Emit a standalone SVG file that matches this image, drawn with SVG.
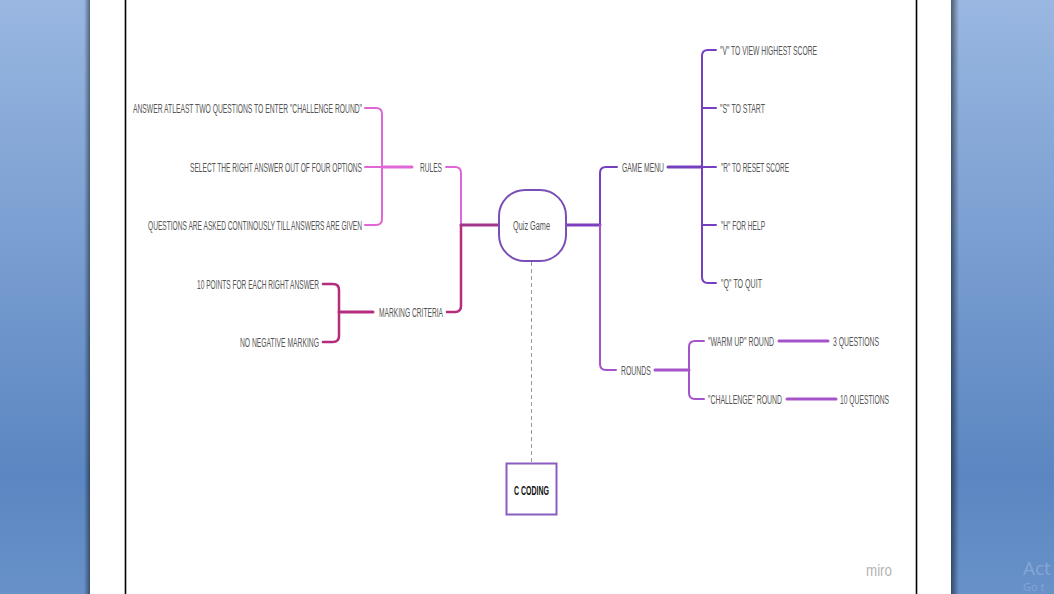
<svg xmlns="http://www.w3.org/2000/svg" width="1054" height="594" viewBox="0 0 1054 594">
<defs>
<linearGradient id="bg" x1="0" y1="0" x2="0" y2="1">
<stop offset="0" stop-color="#99b7e1"/>
<stop offset="0.8" stop-color="#5b86c1"/>
<stop offset="1" stop-color="#6891c9"/>
</linearGradient>
<linearGradient id="shL" x1="0" y1="0" x2="1" y2="0">
<stop offset="0" stop-color="#000" stop-opacity="0"/>
<stop offset="1" stop-color="#000" stop-opacity="0.45"/>
</linearGradient>
<linearGradient id="shR" x1="0" y1="0" x2="1" y2="0">
<stop offset="0" stop-color="#000" stop-opacity="0.5"/>
<stop offset="1" stop-color="#000" stop-opacity="0"/>
</linearGradient>
<style>
.t{font-family:"Liberation Sans",Arial,sans-serif;font-size:13.5px;fill:#555;}
.c{font-family:"Liberation Sans",Arial,sans-serif;font-size:13px;fill:#111;font-weight:bold;}
.ln{fill:none;stroke-linecap:round;stroke-linejoin:round;}
.pink{stroke:#e066d6;stroke-width:2;}
.mag{stroke:#b52c7c;stroke-width:2.5;}
.pur{stroke:#7440c0;stroke-width:2;}
.vio{stroke:#a553cb;stroke-width:2;}
.thick{stroke-width:3;}
</style>
</defs>
<rect x="0" y="0" width="1054" height="594" fill="url(#bg)"/>
<rect x="84" y="0" width="6" height="594" fill="url(#shL)"/>
<rect x="951" y="0" width="8" height="594" fill="url(#shR)"/>
<rect x="90" y="0" width="861" height="594" fill="#fff"/>
<line x1="125.5" y1="0" x2="125.5" y2="594" stroke="#000" stroke-width="1.6"/>
<line x1="916.5" y1="0" x2="916.5" y2="594" stroke="#000" stroke-width="1.6"/>

<g id="connectors">
<path class="ln pink" d="M365 108 H376 Q382 108 382 114 V219 Q382 225 376 225 H365"/>
<path class="ln pink" d="M365 167 H382"/>
<path class="ln pink thick" d="M382 167 H412"/>
<path class="ln pink" d="M446 167 H455 Q461 167 461 173 V225"/>
<path class="ln mag" d="M323 284 H333 Q339 284 339 290 V336 Q339 342 333 342 H323"/>
<path class="ln mag thick" d="M339 312 H373"/>
<path class="ln mag" d="M447 312 H455 Q461 312 461 306 V225"/>
<path class="ln thick" stroke="#a3358c" d="M461 225 H499"/>
<path class="ln thick" stroke="#7d3fc0" d="M566 225 H600"/>
<path class="ln pur" d="M600 225 V173 Q600 167 606 167 H617"/>
<path class="ln vio" d="M600 225 V364 Q600 370 606 370 H616"/>
<path class="ln pur thick" stroke="#6a30b0" d="M668 167 H702"/>
<path class="ln pur" d="M716 50 H708 Q702 50 702 56 V277 Q702 283 708 283 H716"/>
<path class="ln pur" d="M702 108 H716 M702 167 H716 M702 225 H716"/>
<path class="ln vio thick" d="M655 370 H689"/>
<path class="ln vio" d="M704 341 H695 Q689 341 689 347 V393 Q689 399 695 399 H704"/>
<path class="ln vio thick" d="M779 341 H828"/>
<path class="ln vio thick" d="M787 399 H836"/>
<path fill="none" stroke="#999" stroke-width="1" stroke-dasharray="4 3" d="M531.5 262 V463"/>
</g>

<g id="quiz-game">
<rect x="499" y="190" width="67" height="71" rx="26" ry="26" fill="#fff" stroke="#7a4fb5" stroke-width="2"/>
<text class="t" transform="translate(513 229.8) scale(0.6 1)" textLength="61.7" lengthAdjust="spacingAndGlyphs">Quiz Game</text>
</g>
<g id="c-coding">
<rect x="506.5" y="463.5" width="50" height="51" fill="#fff" stroke="#8a5cc0" stroke-width="2"/>
<text class="c" transform="translate(514 494.5) scale(0.6 1)" textLength="58.3" lengthAdjust="spacingAndGlyphs">C CODING</text>
</g>

<g id="rules">
<text class="t" transform="translate(420 171.8) scale(0.55 1)" textLength="40" lengthAdjust="spacingAndGlyphs">RULES</text>
</g>
<g id="rule-1">
<text class="t" transform="translate(133 112.8) scale(0.55 1)" textLength="416.4" lengthAdjust="spacingAndGlyphs">ANSWER ATLEAST TWO QUESTIONS  TO ENTER "CHALLENGE ROUND"</text>
</g>
<g id="rule-2">
<text class="t" transform="translate(190 171.8) scale(0.55 1)" textLength="312.7" lengthAdjust="spacingAndGlyphs">SELECT THE RIGHT ANSWER OUT OF FOUR OPTIONS</text>
</g>
<g id="rule-3">
<text class="t" transform="translate(148 229.8) scale(0.55 1)" textLength="389.1" lengthAdjust="spacingAndGlyphs">QUESTIONS ARE ASKED CONTINOUSLY TILL ANSWERS ARE GIVEN</text>
</g>
<g id="marking-criteria">
<text class="t" transform="translate(379 316.8) scale(0.55 1)" textLength="116.4" lengthAdjust="spacingAndGlyphs">MARKING CRITERIA</text>
</g>
<g id="marking-1">
<text class="t" transform="translate(197 288.8) scale(0.55 1)" textLength="221.8" lengthAdjust="spacingAndGlyphs">10 POINTS FOR EACH RIGHT ANSWER</text>
</g>
<g id="marking-2">
<text class="t" transform="translate(240 346.8) scale(0.55 1)" textLength="143.6" lengthAdjust="spacingAndGlyphs">NO NEGATIVE MARKING</text>
</g>

<g id="game-menu">
<text class="t" transform="translate(622 171.8) scale(0.55 1)" textLength="76.4" lengthAdjust="spacingAndGlyphs">GAME MENU</text>
</g>
<g id="menu-v">
<text class="t" transform="translate(720 54.8) scale(0.55 1)" textLength="176.4" lengthAdjust="spacingAndGlyphs">"V" TO VIEW HIGHEST SCORE</text>
</g>
<g id="menu-s">
<text class="t" transform="translate(720 112.8) scale(0.55 1)" textLength="81.8" lengthAdjust="spacingAndGlyphs">"S" TO START</text>
</g>
<g id="menu-r">
<text class="t" transform="translate(721 171.8) scale(0.55 1)" textLength="123.6" lengthAdjust="spacingAndGlyphs">"R" TO RESET SCORE</text>
</g>
<g id="menu-h">
<text class="t" transform="translate(721 229.8) scale(0.55 1)" textLength="80" lengthAdjust="spacingAndGlyphs">"H" FOR HELP</text>
</g>
<g id="menu-q">
<text class="t" transform="translate(721 287.8) scale(0.55 1)" textLength="74.5" lengthAdjust="spacingAndGlyphs">"Q" TO QUIT</text>
</g>

<g id="rounds">
<text class="t" transform="translate(621 374.8) scale(0.55 1)" textLength="54.5" lengthAdjust="spacingAndGlyphs">ROUNDS</text>
</g>
<g id="warm-up">
<text class="t" transform="translate(708 345.8) scale(0.55 1)" textLength="120" lengthAdjust="spacingAndGlyphs">"WARM UP" ROUND</text>
</g>
<g id="warm-up-q">
<text class="t" transform="translate(833 345.8) scale(0.55 1)" textLength="83.6" lengthAdjust="spacingAndGlyphs">3 QUESTIONS</text>
</g>
<g id="challenge">
<text class="t" transform="translate(708 403.8) scale(0.55 1)" textLength="134.5" lengthAdjust="spacingAndGlyphs">"CHALLENGE" ROUND</text>
</g>
<g id="challenge-q">
<text class="t" transform="translate(840 403.8) scale(0.55 1)" textLength="89.1" lengthAdjust="spacingAndGlyphs">10 QUESTIONS</text>
</g>

<text transform="translate(866 576) scale(0.8 1)" font-family="'Liberation Sans',Arial,sans-serif" font-size="17" fill="#b5b5b5" textLength="32.5" lengthAdjust="spacingAndGlyphs">miro</text>
<text x="1023" y="575" font-family="'Open Sans','Liberation Sans',sans-serif" font-size="19" fill="#86a6d6">Act</text>
<text x="1023" y="591" font-family="'Open Sans','Liberation Sans',sans-serif" font-size="11" fill="#86a6d6">Go t</text>
</svg>
